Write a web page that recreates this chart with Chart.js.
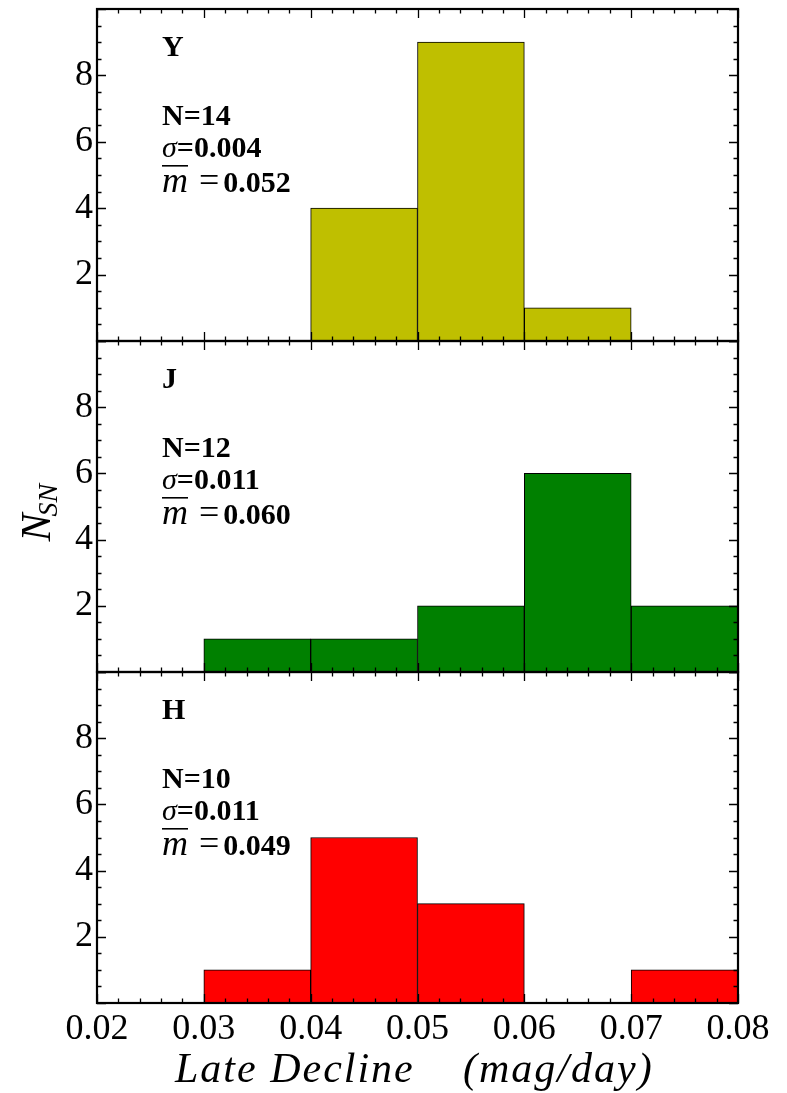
<!DOCTYPE html>
<html>
<head>
<meta charset="utf-8">
<script src="https://cdn.jsdelivr.net/npm/chart.js@4.4.0/dist/chart.umd.min.js"></script>
<style>
  html, body { margin: 0; padding: 0; background: #fff; }
  #wrap { position: relative; width: 787px; height: 1093px; }
  .panel { position: absolute; left: 0; width: 787px; }
</style>
</head>
<body>
<div id="wrap">
  <div class="panel" style="top:0;height:350px"><canvas id="panel-y"></canvas></div>
  <div class="panel" style="top:332px;height:349px"><canvas id="panel-j"></canvas></div>
  <div class="panel" style="top:663px;height:430px"><canvas id="panel-h"></canvas></div>
</div>
<script>
// histogram bins (centres, width 0.01 mag/day)
const binCenters = [0.025, 0.035, 0.045, 0.055, 0.065, 0.075];
const countsY = [0, 0, 4, 9, 1, 0];
const countsJ = [0, 1, 1, 2, 6, 2];
const countsH = [0, 1, 5, 3, 0, 1];

const xTicks = [0.02, 0.03, 0.04, 0.05, 0.06, 0.07, 0.08];
const yTicks = [2, 4, 6, 8];

const bands = ["Y", "J", "H"];
const sampleSizes = [14, 12, 10];
const sigmas = ["0.004", "0.011", "0.011"];
const means = ["0.052", "0.060", "0.049"];
const barColors = ["#bfbf00", "#008000", "#ff0000"];

const SERIF = "'Liberation Serif', 'DejaVu Serif', serif";

// frame + inward ticks on all four sides
const frameTicks = {
  id: "frameTicks",
  afterDatasetsDraw(chart) {
    const { ctx, chartArea: a, scales } = chart;
    const x = scales.x, y = scales.y;
    ctx.save();
    ctx.strokeStyle = "#000";
    ctx.lineWidth = 1.3;
    ctx.beginPath();
    for (let i = 0; i <= 30; i++) {
      const px = Math.round(x.getPixelForValue(0.02 + i * 0.002)) + 0.5;
      const len = i % 5 === 0 ? 9 : 4.5;
      ctx.moveTo(px, a.bottom); ctx.lineTo(px, a.bottom - len);
      ctx.moveTo(px, a.top); ctx.lineTo(px, a.top + len);
    }
    for (let i = 0; i <= 20; i++) {
      const py = Math.round(y.getPixelForValue(i * 0.5)) + 0.5;
      const len = i % 4 === 0 ? 9 : 4.5;
      ctx.moveTo(a.left, py); ctx.lineTo(a.left + len, py);
      ctx.moveTo(a.right, py); ctx.lineTo(a.right - len, py);
    }
    ctx.stroke();
    ctx.lineWidth = 2.2;
    ctx.strokeRect(a.left, a.top, a.right - a.left, a.bottom - a.top);
    ctx.restore();
  },
};

// band name and summary numbers in the upper left of each panel
const panelNote = {
  id: "panelNote",
  afterDraw(chart, args, opts) {
    const { ctx, chartArea: a } = chart;
    const x0 = a.left + 65;
    ctx.save();
    ctx.fillStyle = "#000";
    ctx.textBaseline = "alphabetic";
    ctx.textAlign = "left";
    const bold = "bold 30px " + SERIF, ital = "italic 30px " + SERIF;
    ctx.font = bold;
    ctx.fillText(opts.band, x0, a.top + 47);
    ctx.fillText("N=" + opts.n, x0, a.top + 116);
    // sigma line
    ctx.font = ital;
    ctx.fillText("\u03c3", x0, a.top + 148);
    let w = ctx.measureText("\u03c3").width;
    ctx.font = bold;
    ctx.fillText("=" + opts.sigma, x0 + w, a.top + 148);
    // mean line, m with an overbar
    const yb = a.top + 183;
    ctx.font = "italic 36px " + SERIF;
    ctx.fillText("m", x0, yb);
    w = ctx.measureText("m").width;
    ctx.fillRect(x0, yb - 27, w, 1.6);
    ctx.font = "36px " + SERIF;
    ctx.fillText("=", x0 + w + 11, yb);
    const we = ctx.measureText("=").width;
    ctx.font = bold;
    ctx.fillText(opts.mean, x0 + w + we + 15, yb);
    ctx.restore();
  },
};

// N_SN on the middle panel, axis caption on the bottom one
const axisTitles = {
  id: "axisTitles",
  afterDraw(chart, args, opts) {
    const { ctx, chartArea: a } = chart;
    ctx.save();
    ctx.fillStyle = "#000";
    if (opts.yTitle) {
      const cy = (a.top + a.bottom) / 2;
      ctx.translate(50, cy + 35);
      ctx.rotate(-Math.PI / 2);
      ctx.textAlign = "left";
      ctx.textBaseline = "alphabetic";
      ctx.font = "italic 42px " + SERIF;
      ctx.fillText("N", 0, 0);
      const w = ctx.measureText("N").width;
      ctx.font = "italic 28px " + SERIF;
      ctx.fillText("SN", w - 3, 7);
    }
    if (opts.xTitle) {
      ctx.textAlign = "left";
      ctx.textBaseline = "alphabetic";
      ctx.font = "italic 42px " + SERIF;
      ctx.letterSpacing = "2px";
      ctx.fillText("Late Decline", 175, a.bottom + 79);
      ctx.fillText("(mag/day)", 463, a.bottom + 79);
    }
    ctx.restore();
  },
};

function makePanel(id, counts, k, isBottom) {
  return new Chart(document.getElementById(id), {
    type: "bar",
    data: {
      datasets: [{
        data: binCenters.map((c, i) => ({ x: c, y: counts[i] || null })),
        backgroundColor: barColors[k],
        borderColor: "#000",
        borderWidth: 1,
        borderSkipped: false,
        barPercentage: 1,
        categoryPercentage: 1,
      }],
    },
    options: {
      responsive: true,
      maintainAspectRatio: false,
      animation: false,
      events: [],
      layout: { padding: { left: 0, right: 49, top: 9, bottom: isBottom ? 0 : 9 } },
      plugins: {
        legend: { display: false },
        tooltip: { enabled: false },
        panelNote: { band: bands[k], n: sampleSizes[k], sigma: sigmas[k], mean: means[k] },
        axisTitles: { yTitle: k === 1, xTitle: isBottom },
      },
      scales: {
        x: {
          type: "linear",
          offset: false,
          min: xTicks[0],
          max: xTicks[xTicks.length - 1],
          display: isBottom,
          grid: { display: false, drawTicks: false, offset: false },
          border: { display: false },
          afterBuildTicks: (s) => { s.ticks = xTicks.map((v) => ({ value: v })); },
          ticks: {
            padding: 5,
            color: "#000",
            font: { family: SERIF, size: 36 },
            callback: (v) => Number(v).toFixed(2),
          },
          afterFit: (s) => { if (isBottom) s.height = 90; },
        },
        y: {
          min: 0,
          max: 10,
          grid: { display: false, drawTicks: false },
          border: { display: false },
          afterBuildTicks: (s) => { s.ticks = yTicks.map((v) => ({ value: v })); },
          ticks: {
            padding: 4,
            color: "#000",
            font: { family: SERIF, size: 36 },
          },
          afterFit: (s) => {
            s.width = 97;
            // labels at 2..8 never reach the frame edges
            s.paddingTop = 0;
            s.paddingBottom = 0;
          },
        },
      },
    },
    plugins: [frameTicks, panelNote, axisTitles],
  });
}

makePanel("panel-y", countsY, 0, false);
makePanel("panel-j", countsJ, 1, false);
makePanel("panel-h", countsH, 2, true);
</script>
</body>
</html>
